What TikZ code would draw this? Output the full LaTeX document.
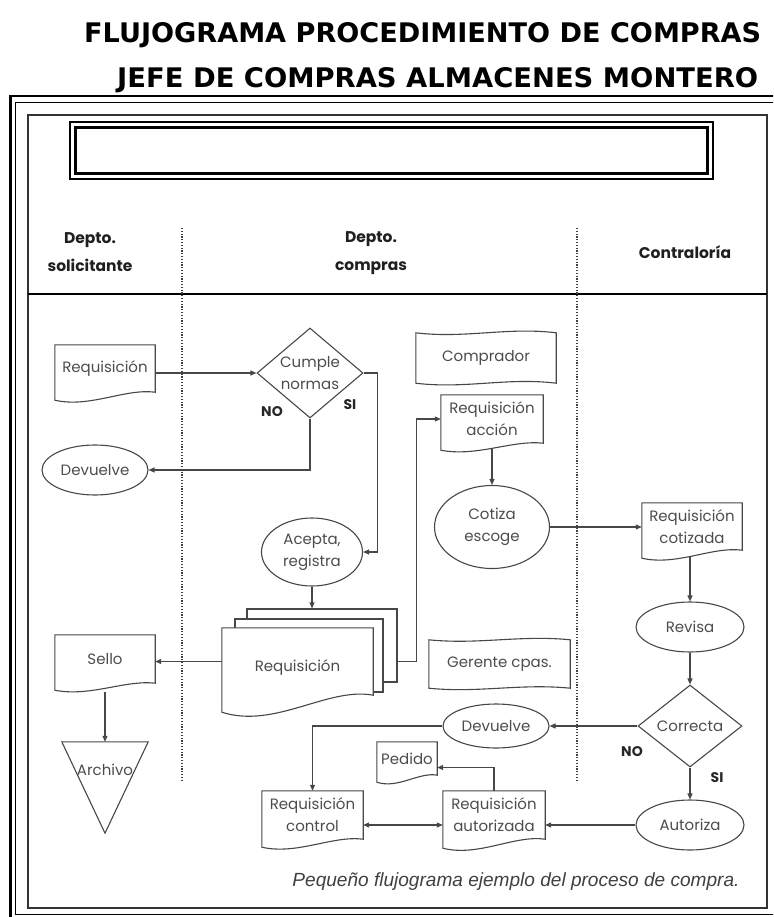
\documentclass[tikz,border=0pt]{standalone}
\usepackage{fontspec}
\setmainfont{Poppins}
\newfontfamily\titlefont{DejaVu Sans}
\newfontfamily\capfont{Liberation Sans}
\usetikzlibrary{arrows.meta,shapes.geometric,calc}

% document symbol: straight top and sides, wavy bottom that dips #3 below the left corner
\newcommand\docline[3][]{%
  \draw[ln,#1] ($(#2.south west)+(0,#3)$) -- (#2.north west) -- (#2.north east) -- (#2.south east)
    .. controls ($(#2.south east)!0.3!(#2.south west)+(0,-0.5*#3)$)
            and ($(#2.south east)!0.65!(#2.south west)+(0,2*#3)$)
    .. ($(#2.south west)+(0,#3)$) -- cycle;}
% punched-tape symbol: wavy top and bottom edges
\newcommand\tapeline[2]{%
  \draw[ln] (#1.north west)
    .. controls ($(#1.north west)!0.35!(#1.north east)+(0,#2)$)
            and ($(#1.north west)!0.65!(#1.north east)+(0,-#2)$) .. (#1.north east)
    -- (#1.south east)
    .. controls ($(#1.south east)!0.35!(#1.south west)+(0,-#2)$)
            and ($(#1.south east)!0.65!(#1.south west)+(0,#2)$) .. (#1.south west)
    -- cycle;}

\begin{document}
\begin{tikzpicture}[x=1pt,y=-1pt,
  ln/.style={line width=1.1pt, draw=black!72},
  arr/.style={ln, -{Triangle[length=6pt,width=5pt]}},
  arrboth/.style={ln, {Triangle[length=6pt,width=5pt]}-{Triangle[length=6pt,width=5pt]}},
  txt/.style={font=\fontsize{15}{22}\selectfont, text=black!70, align=center},
  docbox/.style={txt, rectangle, inner sep=0pt},
  oval/.style={txt, ellipse, ln, inner sep=0pt},
  decision/.style={diamond, ln, inner sep=0pt},
  yesno/.style={font=\bfseries\fontsize{14}{16}\selectfont, text=black!85},
  lane/.style={font=\bfseries\fontsize{15.5}{28}\selectfont, text=black!88, align=center},
  dots/.style={line width=1.6pt, draw=black!75, dash pattern=on 1.2pt off 1.6pt},
]
\useasboundingbox (0,0) rectangle (773,917);
\clip (0,0) rectangle (773,917);

% heading
\node[inner sep=0pt, anchor=base west] (title1) at (84,43)
  {\resizebox{677pt}{20pt}{\titlefont\bfseries FLUJOGRAMA PROCEDIMIENTO DE COMPRAS}};
\node[inner sep=0pt, anchor=base west] (title2) at (117,88)
  {\resizebox{641pt}{20pt}{\titlefont\bfseries JEFE DE COMPRAS ALMACENES MONTERO}};

% page frame and diagram border
\draw[line width=2.2pt] (10.5,96) rectangle (800,930);
\draw[line width=1.6pt] (15.5,102.5) rectangle (795,914.5);
\draw[line width=1.1pt, draw=black!80] (28,115) rectangle (767,908);

% empty title box
\draw[line width=1.4pt] (70,122) rectangle (713,179);
\draw[line width=2.6pt] (75.5,127.5) rectangle (707.5,173.5);

% swimlane headers
\node[lane] (laneA) at (90,252) {Depto.\\solicitante};
\node[lane] (laneB) at (371,253) {Depto.\\compras};
\node[lane] (laneC) at (685,252) {Contraloría};
\draw[line width=2.6pt] (28,294) -- (767,294);
\draw[dots] (182,228) -- (182,782);
\draw[dots] (577,228) -- (577,782);

% stacked requisition copies
\node[ln, fill=white, rectangle, inner sep=0pt, minimum width=150pt, minimum height=73pt] (stackB) at (322,645.5) {};
\node[ln, fill=white, rectangle, inner sep=0pt, minimum width=148pt, minimum height=73pt] (stackM) at (309,655.5) {};
\node[docbox, minimum width=151pt, minimum height=67pt] (stack) at (297.5,661.5) {};
\docline[fill=white]{stack}{17}
\node[txt] (stackTxt) at ($(stack.center)+(0,6)$) {Requisición};

% flow symbols
\node[docbox, minimum width=100pt, minimum height=47pt] (reqA) at (105,368.5) {Requisición};
\node[decision, minimum width=106pt, minimum height=90pt,
      label={[txt]center:{Cumple\\normas}}] (cumple) at (310,373) {};
\node[oval, minimum width=106pt, minimum height=50pt] (dev1) at (95,470) {Devuelve};
\node[oval, minimum width=101pt, minimum height=68pt] (acepta) at (312,552) {Acepta,\\registra};
\node[docbox, minimum width=140pt, minimum height=50pt] (comprador) at (486,358) {Comprador};
\node[docbox, minimum width=102pt, minimum height=48pt] (reqAcc) at (492,419) {Requisición\\acción};
\node[oval, minimum width=115pt, minimum height=83pt] (cotiza) at (492,527) {Cotiza\\escoge};
\node[docbox, minimum width=100pt, minimum height=47pt] (reqCot) at (692,526.5) {Requisición\\cotizada};
\node[oval, minimum width=108pt, minimum height=50pt] (revisa) at (690,627) {Revisa};
\node[docbox, minimum width=141pt, minimum height=48pt] (gerente) at (499.5,664) {Gerente cpas.};
\node[decision, minimum width=104pt, minimum height=82pt,
      label={[txt]center:Correcta}] (correcta) at (690,726) {};
\node[oval, minimum width=106pt, minimum height=44pt] (dev2) at (496,726) {Devuelve};
\node[docbox, minimum width=60pt, minimum height=33pt] (pedido) at (407,758.5) {Pedido};
\node[docbox, minimum width=102pt, minimum height=48pt] (reqAut) at (494,815) {Requisición\\autorizada};
\node[docbox, minimum width=101pt, minimum height=48pt] (reqCtl) at (312.5,815) {Requisición\\control};
\node[oval, minimum width=108pt, minimum height=50pt] (autoriza) at (690,825) {Autoriza};
\node[docbox, minimum width=100pt, minimum height=48pt] (sello) at (105,659) {Sello};
\node[rectangle, inner sep=0pt, minimum width=86pt, minimum height=91pt] (archivo) at (105,787.5) {};
\draw[ln] (archivo.north west) -- (archivo.north east) -- (archivo.south) -- cycle;
\node[txt] (archivoTxt) at (105,770) {Archivo};

\docline{reqA}{8}
\docline{reqAcc}{7}
\docline{reqCot}{8}
\docline{pedido}{7}
\docline{reqAut}{9}
\docline{reqCtl}{8}
\docline{sello}{7}
\tapeline{comprador}{6}
\tapeline{gerente}{5}

% decision outcomes
\node[yesno] (no1) at (272,412) {NO};
\node[yesno] (si1) at (350,405) {SI};
\node[yesno] (no2) at (632,752) {NO};
\node[yesno] (si2) at (717,778) {SI};

% connectors
\draw[arr] (reqA.east |- cumple.west) -- (cumple.west);
\draw[arr] (cumple.east) -- ++(14,0) |- (acepta.east);
\draw[arr] (cumple.south) |- (dev1.east);
\draw[arr] (acepta.south) -- (acepta.south |- stackB.north);
\draw[arr] (stack.west) -- (stack.west -| sello.east);
\draw[arr] (stackB.east |- stack.west) -- ++(19,0) |- (reqAcc.west);
\draw[arr] ($(reqAcc.south)+(0,6)$) -- (cotiza.north);
\draw[arr] (cotiza.east) -- (cotiza.east -| reqCot.west);
\draw[arr] ($(revisa.north |- reqCot.south)+(0,7)$) -- (revisa.north);
\draw[arr] (revisa.south) -- (correcta.north);
\draw[arr] (correcta.west) -- (dev2.east);
\draw[arr] (correcta.south) -- (autoriza.north);
\draw[arr] (dev2.west) -| (reqCtl.north);
\draw[arr] (reqAut.north) |- ($(pedido.east)+(0,9)$);
\draw[arr] (autoriza.west) -- (autoriza.west -| reqAut.east);
\draw[arrboth] ($(reqCtl.east)+(0,10)$) -- ($(reqAut.west)+(0,10)$);
\draw[arr] ($(sello.south)+(0,9)$) -- (sello.south |- archivo.north);

% caption
\node[font=\capfont\itshape, text=black!75, inner sep=0pt] (caption) at (516,882)
  {\resizebox{447pt}{!}{Pequeño flujograma ejemplo del proceso de compra.}};
\end{tikzpicture}
\end{document}
